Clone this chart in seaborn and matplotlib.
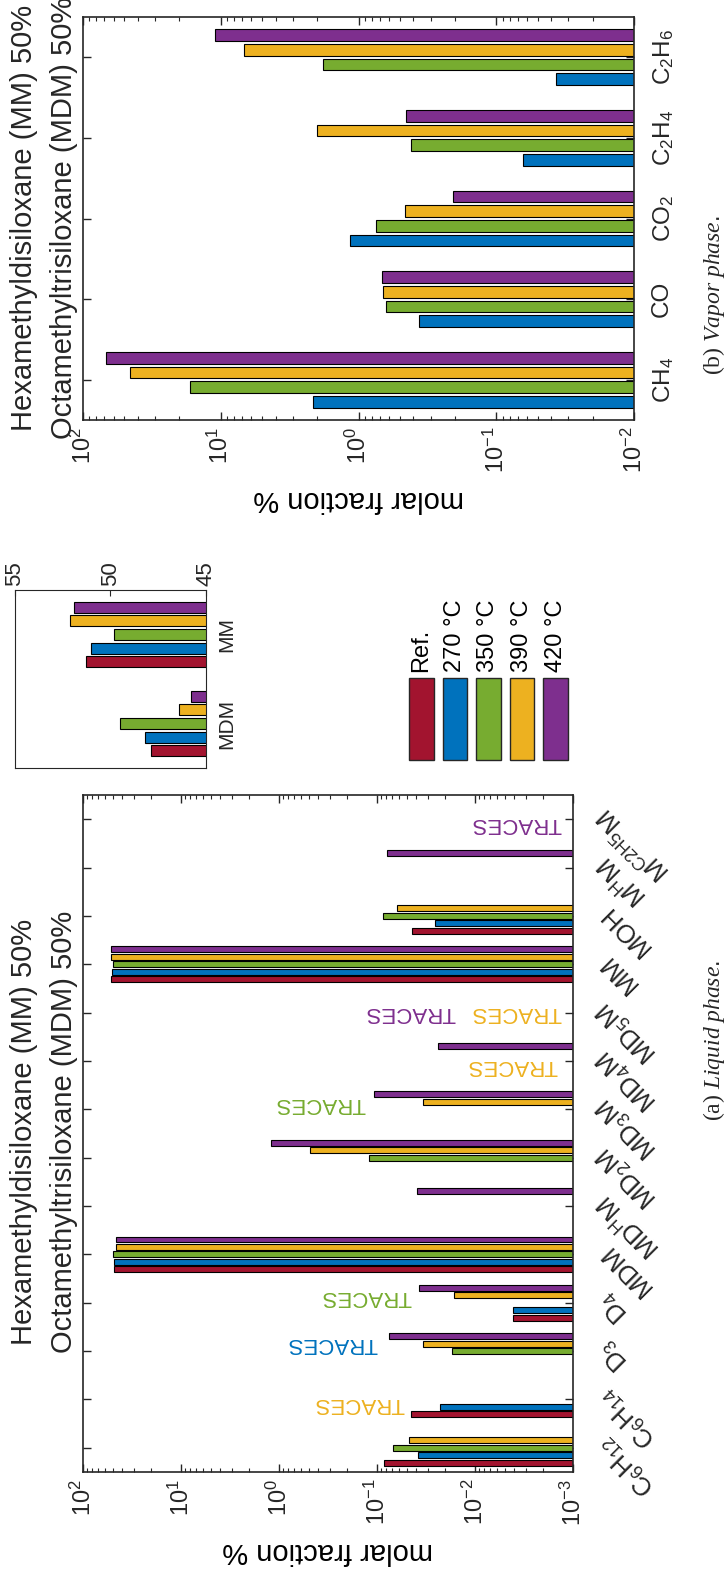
import numpy as np
import pandas as pd
import matplotlib
matplotlib.use("Agg")
import matplotlib.pyplot as plt
import seaborn as sns
from matplotlib.patches import Rectangle
from matplotlib.ticker import LogLocator, NullFormatter, FixedLocator

# ---------------------------------------------------------------- data
nan = np.nan
series = ["Ref.", "270 °C", "350 °C", "390 °C", "420 °C"]
series_colors = ["#A2142F", "#0072BD", "#77AC30", "#EDB120", "#7E2F8E"]

liquid_species = ["C$_6$H$_{12}$", "C$_6$H$_{14}$", "D$_3$", "D$_4$", "MDM",
                  "MD$^{\\mathrm{H}}$M", "MD$_2$M", "MD$_3$M", "MD$_4$M", "MD$_5$M",
                  "MM", "MOH", "M$^{\\mathrm{H}}$M", "M$^{\\mathrm{C2H5}}$M"]
liquid_ref = [0.085, 0.045, nan, 0.0041, 47.9, nan, nan, nan, nan, nan, 51.3, 0.044, nan, nan]
liquid_270 = [0.0385, 0.023, nan, 0.0041, 48.2, nan, nan, nan, nan, nan, 51.0, 0.0256, nan, nan]
liquid_350 = [0.068, nan, 0.0173, nan, 49.5, nan, 0.122, nan, nan, nan, 49.8, 0.0875, nan, nan]
liquid_390 = [0.047, nan, 0.0342, 0.0163, 46.4, nan, 0.483, 0.0336, nan, nan, 52.1, 0.063, nan, nan]
liquid_420 = [nan, nan, 0.0748, 0.037, 45.8, 0.0394, 1.21, 0.107, 0.024, nan, 51.9, nan, 0.079, nan]

# species/series pairs only detected as traces
traces_species = [1, 2, 3, 7, 8, 9, 9, 13]
traces_series = ["390 °C", "270 °C", "350 °C", "350 °C", "390 °C", "390 °C", "420 °C", "420 °C"]

vapor_species = ["CH$_4$", "CO", "CO$_2$", "C$_2$H$_4$", "C$_2$H$_6$"]
vapor_series = series[1:]
vapor_270 = [2.13, 0.366, 1.15, 0.0637, 0.0366]
vapor_350 = [16.7, 0.632, 0.746, 0.419, 1.82]
vapor_390 = [45.7, 0.661, 0.457, 2.0, 6.78]
vapor_420 = [67.8, 0.678, 0.205, 0.449, 11.1]

inset_species = ["MDM", "MM"]


def long_frame(species, columns, names):
    rows = []
    for name, vals in zip(names, columns):
        for sp, v in zip(species, vals):
            if not np.isnan(v):
                rows.append((sp, name, v))
    return pd.DataFrame(rows, columns=["species", "series", "fraction"])


liquid_df = long_frame(liquid_species,
                       [liquid_ref, liquid_270, liquid_350, liquid_390, liquid_420], series)
vapor_df = long_frame(vapor_species, [vapor_270, vapor_350, vapor_390, vapor_420], vapor_series)
inset_df = liquid_df[liquid_df["species"].isin(inset_species)].copy()

# ---------------------------------------------------------------- style
sns.set_theme(style="white")
plt.rcParams["font.family"] = ["Liberation Sans", "DejaVu Sans"]
plt.rcParams["mathtext.fontset"] = "custom"
plt.rcParams["mathtext.rm"] = "Liberation Sans"
plt.rcParams["mathtext.it"] = "Liberation Serif:italic"
plt.rcParams["mathtext.default"] = "regular"

W, H = 726, 1573
fig = plt.figure(figsize=(W / 100, H / 100), dpi=100)
INK = "#262626"


def rect(x0, y0, x1, y1):
    return [x0 / W, 1 - y1 / H, (x1 - x0) / W, (y1 - y0) / H]


def style_frame(ax, lw=1.2):
    for s in ax.spines.values():
        s.set_visible(True)
        s.set_color(INK)
        s.set_linewidth(lw)


def log_axis(ax, lo, hi):
    ax.set_xlim(hi, lo)
    ax.xaxis.set_major_locator(LogLocator(base=10, numticks=12))
    ax.xaxis.set_minor_locator(LogLocator(base=10, subs=np.arange(2, 10), numticks=12))
    ax.xaxis.set_minor_formatter(NullFormatter())
    ax.tick_params(axis="x", which="both", direction="in", top=True, bottom=True,
                   labelrotation=90, labelsize=17, colors=INK, pad=5)
    ax.tick_params(axis="x", which="major", length=6, width=1)
    ax.tick_params(axis="x", which="minor", length=3, width=0.8)
    ax.tick_params(axis="y", which="major", direction="in", left=True, right=True,
                   length=6, width=1, colors=INK)
    ax.set_xlabel("molar fraction %", rotation=180, fontsize=21, color="black", labelpad=8)
    ax.set_ylabel("")


bar_kw = dict(orient="h", edgecolor="black", linewidth=0.8, errorbar=None,
              legend=False, saturation=1, gap=0.2)

# ---------------------------------------------------------------- liquid phase
ax_l = fig.add_axes(rect(83, 795, 573, 1472))
ax_l.set_xscale("log")
sns.barplot(data=liquid_df, x="fraction", y="species", hue="series",
            order=liquid_species, hue_order=series, palette=series_colors,
            width=0.769, ax=ax_l, **bar_kw)
style_frame(ax_l)
log_axis(ax_l, 1e-3, 1e2)
ax_l.set_ylim(-0.5, len(liquid_species) - 0.5)
ax_l.yaxis.set_major_locator(FixedLocator(range(len(liquid_species))))
ax_l.tick_params(axis="y", labelleft=False, labelright=False)
for i, lab in enumerate(liquid_species):
    ax_l.annotate(lab, xy=(1, i), xycoords=("axes fraction", "data"),
                  xytext=(30, 7), textcoords="offset pixels", rotation=135,
                  rotation_mode="anchor", ha="right", va="center", fontsize=18.5,
                  color=INK)

trace_start = [0.052, 0.098, 0.044, 0.132, 0.00145, 0.0013, 0.0159, 0.0013]
trace_dy = [-0.08, 0.16, 0.12, 0.12, -0.10, 0.0, 0.0, -0.08]
for sp, sr, x0, dy in zip(traces_species, traces_series, trace_start, trace_dy):
    ax_l.text(x0, sp + dy, "TRACES", rotation=180, ha="right", va="center",
              fontsize=16, color=series_colors[series.index(sr)])

# ---------------------------------------------------------------- vapor phase
ax_v = fig.add_axes(rect(83, 17, 634, 420))
ax_v.set_xscale("log")
sns.barplot(data=vapor_df, x="fraction", y="species", hue="series",
            order=vapor_species, hue_order=vapor_series, palette=series_colors[1:],
            width=0.727, ax=ax_v, **bar_kw)
style_frame(ax_v)
log_axis(ax_v, 1e-2, 1e2)
ax_v.set_ylim(-0.5, len(vapor_species) - 0.5)
ax_v.yaxis.set_major_locator(FixedLocator(range(len(vapor_species))))
ax_v.set_yticklabels(vapor_species)
ax_v.tick_params(axis="y", labelleft=False, labelright=True, labelrotation=90,
                 labelsize=17.5, pad=12)
for lab in ax_v.get_yticklabels():
    lab.set_va("center")

# ---------------------------------------------------------------- MDM / MM close-up
ax_i = fig.add_axes(rect(15, 590, 206, 768))
sns.barplot(data=inset_df, x="fraction", y="species", hue="series",
            order=inset_species, hue_order=series, palette=series_colors,
            width=0.769, ax=ax_i, **bar_kw)
style_frame(ax_i, lw=0.8)
ax_i.set_xlim(55, 45)
ax_i.set_ylim(-0.5, 1.5)
ax_i.xaxis.tick_top()
ax_i.set_xticks([45, 50, 55])
ax_i.tick_params(axis="x", direction="in", length=4, width=0.8, labelrotation=90,
                 labelsize=16, pad=3, colors=INK)
ax_i.yaxis.tick_right()
ax_i.tick_params(axis="y", length=0, labelrotation=90, labelsize=15, pad=8, colors=INK)
for lab in ax_i.get_yticklabels():
    lab.set_va("center")
ax_i.set_xlabel("")
ax_i.set_ylabel("")

# ---------------------------------------------------------------- legend, titles, captions
lay = fig.add_axes([0, 0, 1, 1])
lay.set_xlim(0, W)
lay.set_ylim(H, 0)
lay.axis("off")
for k, (name, col) in enumerate(zip(series, series_colors)):
    x0 = 409 + k * 33.6
    lay.add_patch(Rectangle((x0, 678), 24.5, 82, facecolor=col, edgecolor=INK, lw=1))
    lay.text(x0 + 12.25, 672, name, rotation=90, rotation_mode="anchor",
             ha="left", va="center", fontsize=17, color="black")

for yc in (1132, 218):
    lay.text(32, yc, "Hexamethyldisiloxane (MM) 50%", rotation=90,
             rotation_mode="anchor", ha="center", va="baseline", fontsize=21)
    lay.text(72, yc, "Octamethyltrisiloxane (MDM) 50%", rotation=90,
             rotation_mode="anchor", ha="center", va="baseline", fontsize=21)

lay.text(720, 1041, "(a) $\\mathit{Liquid\\ phase.}$", family="Liberation Serif",
         rotation=90, rotation_mode="anchor", ha="center", va="baseline", fontsize=17)
lay.text(720, 295, "(b) $\\mathit{Vapor\\ phase.}$", family="Liberation Serif",
         rotation=90, rotation_mode="anchor", ha="center", va="baseline", fontsize=17)

fig.savefig("out.png", dpi=100)
